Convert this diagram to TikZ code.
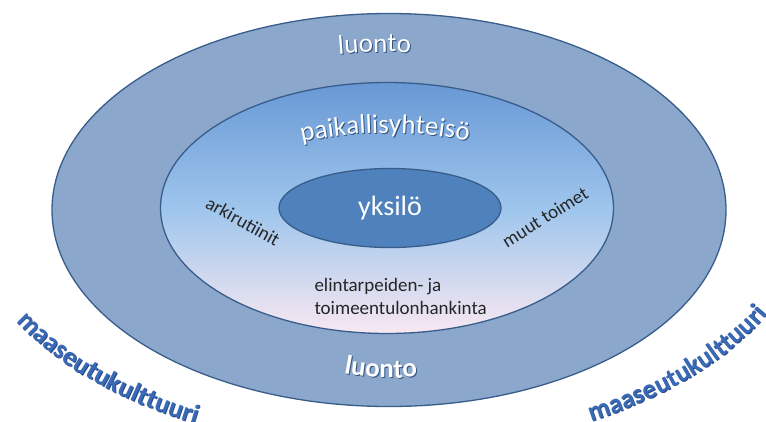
\documentclass[tikz,border=0pt]{standalone}
\usepackage{fontspec}
\setmainfont{Carlito}
\usetikzlibrary{shapes.geometric,decorations.text}

\definecolor{outerfill}{RGB}{139,167,204}
\definecolor{rimblue}{RGB}{56,93,138}
\definecolor{coreblue}{RGB}{79,129,189}
\definecolor{daytop}{RGB}{104,152,213}
\definecolor{daymid}{RGB}{158,197,236}
\definecolor{daybot}{RGB}{248,232,242}
\definecolor{wordblue}{RGB}{58,106,182}
\definecolor{wordedge}{RGB}{38,74,138}
\definecolor{glow}{RGB}{52,82,124}

\begin{document}
\begin{tikzpicture}[x=1pt,y=1pt]
%\draw[help lines,step=50] (0,0) grid (766,-421);
\tikzstyle{ring}=[ellipse,draw=rimblue,line width=1.3pt,inner sep=0pt]
\tikzstyle{small}=[font=\fontsize{19}{23}\selectfont,text=black!85]
\tikzstyle{arctxt}=[decorate,decoration={text along path,text align=center}]

\useasboundingbox (0,0) rectangle (766,-421);

\node[ring,fill=outerfill,minimum width=674pt,minimum height=393pt] (luonto) at (389,-210) {};
\node[ring,top color=daytop,bottom color=daybot,middle color=daymid,minimum width=453pt,minimum height=251pt] (yhteiso) at (387,-208) {};
\node[ring,fill=coreblue,minimum width=222pt,minimum height=79pt,text=white,font=\fontsize{28}{30}\selectfont] (yksilo) at (390,-208) {yksilö};

\node[small,rotate=-29] (arki) at (243,-221) {arkirutiinit};
\node[small,rotate=32] (muut) at (545,-217) {muut toimet};
\node[small,align=left,anchor=west] (hankinta) at (311,-296) {elintarpeiden- ja\\toimeentulonhankinta};

% luonto, top
\path[arctxt,shift={(1,-1)},decoration={text={|\fontsize{27}{30}\selectfont\color{glow}|luonto}}]
  (389,-210) ++(122:300 and 158) arc[start angle=122,end angle=64,x radius=300,y radius=158];
\path[arctxt,decoration={text={|\fontsize{27}{30}\selectfont\color{white}|luonto}}]
  (389,-210) ++(122:300 and 158) arc[start angle=122,end angle=64,x radius=300,y radius=158];

% paikallisyhteiso
\path[arctxt,shift={(1,-1)},decoration={text={|\fontsize{27}{30}\selectfont\color{glow}|paikallisyhteisö}}]
  (387,-208) ++(151:180 and 75) arc[start angle=151,end angle=31,x radius=180,y radius=75];
\path[arctxt,decoration={text={|\fontsize{27}{30}\selectfont\color{white}|paikallisyhteisö}}]
  (387,-208) ++(151:180 and 75) arc[start angle=151,end angle=31,x radius=180,y radius=75];

% luonto, bottom
\path[arctxt,shift={(1,-1)},decoration={text={|\fontsize{27}{30}\selectfont\bfseries\color{glow}|luonto}}]
  (389,-210) ++(237:200 and 168) arc[start angle=237,end angle=298,x radius=200,y radius=168];
\path[arctxt,decoration={text={|\fontsize{27}{30}\selectfont\bfseries\color{white}|luonto}}]
  (389,-210) ++(237:200 and 168) arc[start angle=237,end angle=298,x radius=200,y radius=168];

% maaseutukulttuuri, both sides (darker copy underneath)
\path[arctxt,shift={(0.9,-0.9)},decoration={text={|\fontsize{27}{30}\selectfont\bfseries\color{wordedge}|maaseutukulttuuri}}]
  (389,-210) ++(187:420 and 241) arc[start angle=187,end angle=256,x radius=420,y radius=241];
\path[arctxt,decoration={text={|\fontsize{27}{30}\selectfont\bfseries\color{wordblue}|maaseutukulttuuri}}]
  (389,-210) ++(187:420 and 241) arc[start angle=187,end angle=256,x radius=420,y radius=241];
\path[arctxt,shift={(0.9,-0.9)},decoration={text={|\fontsize{27}{30}\selectfont\bfseries\color{wordedge}|maaseutukulttuuri}}]
  (389,-210) ++(286:420 and 241) arc[start angle=286,end angle=354,x radius=420,y radius=241];
\path[arctxt,decoration={text={|\fontsize{27}{30}\selectfont\bfseries\color{wordblue}|maaseutukulttuuri}}]
  (389,-210) ++(286:420 and 241) arc[start angle=286,end angle=354,x radius=420,y radius=241];
\end{tikzpicture}
\end{document}
